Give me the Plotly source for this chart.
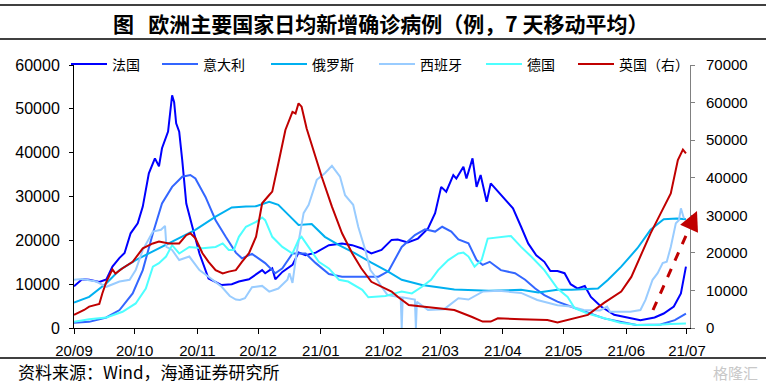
import plotly.graph_objects as go
import pandas as pd

# ---------------- data (days since 2020-09-01, values) ----------------
START = "2020-09-01"

fr_days = [0, 4, 7.5, 12.5, 16, 19, 22.5, 25, 28, 31.5, 34, 37, 40, 42, 43.5, 46.5, 48.5, 49.5, 50.5, 52, 53.5,
           55.5, 58.5, 62, 66.5, 73, 78, 81.5, 86.5, 93, 94.5, 98, 99.5, 103, 108, 111, 114.5, 119.5, 126,
           132.5, 137.5, 142, 147, 152, 157, 160, 165, 170, 175, 178.5, 181.5, 184, 187.5, 189, 192.5, 194,
           197, 199, 201, 204, 206, 211, 217, 221, 224.5, 228.5, 232.5, 235.5, 239, 242.5, 245.5, 249, 252.5,
           255.5, 260.5, 267, 273.5, 280, 287, 291.5, 296.5, 300, 302.5]
fr_vals = [9500, 11100, 11000, 10500, 11100, 14000, 16000, 17100, 21600, 23900, 27700, 35300, 38700, 36900,
           41000, 44800, 53100, 51500, 46700, 44800, 38300, 28400, 23100, 17000, 11300, 9800, 10000, 10600,
           11100, 13200, 12500, 13600, 11100, 12800, 14400, 17200, 16600, 17200, 18900, 19300, 18900, 18200,
           17000, 17800, 20100, 20200, 19500, 20400, 22700, 26200, 32200, 31100, 34900, 34100, 36800, 34100,
           38700, 32200, 34900, 28800, 33000, 30300, 27300, 23100, 19300, 16600, 15100, 13000, 13000, 12500,
           10000, 9000, 9600, 7100, 4900, 3000, 2400, 1800, 2400, 3300, 4900, 7900, 14000]

it_days = [0, 7.5, 16, 22.5, 29, 34, 39, 43.5, 48.5, 53.5, 57.5, 60, 65, 70, 75, 80, 83, 88, 94.5, 99.5, 103,
           108, 111, 114.5, 119.5, 126, 132.5, 142, 150.5, 155.5, 162, 168.5, 173.5, 178.5, 182, 186.5, 190,
           195, 199, 202, 205.5, 211, 218, 223, 228, 232.5, 239, 245.5, 262, 278, 290, 297, 302.5]
it_vals = [1200, 1400, 2400, 4100, 7900, 13200, 21600, 28400, 32200, 34500, 34900, 34100, 29900, 24600, 20800,
           17200, 15900, 16900, 14800, 12500, 13600, 17000, 17000, 17000, 14800, 12300, 11700, 11700, 11700,
           13000, 18500, 21200, 22500, 22000, 23100, 22000, 20200, 19300, 15500, 14400, 15100, 13200, 12500,
           11000, 9000, 7500, 6000, 4900, 2200, 700, 800, 1800, 3300]

ru_days = [0, 7.5, 16, 22.5, 30.5, 40.5, 50.5, 60, 70, 78, 85, 90, 96.5, 101, 106, 111, 117.5, 124, 131, 139,
           147, 155.5, 162, 172, 188, 205, 221, 229.5, 239, 246, 259, 264, 270.5, 278.5, 285, 291.5, 298, 302.5]
ru_vals = [5800, 7100, 10200, 13200, 15500, 17800, 20100, 22400, 25400, 27500, 27700, 27800, 28800, 28100,
           25800, 23500, 23700, 20800, 18900, 17000, 14900, 12800, 11000, 9800, 8800, 8500, 8700, 8100, 8700,
           8700, 9000, 11000, 14000, 18200, 22400, 24800, 25000, 24800]

es_days = [0, 4, 11, 16, 22.5, 27.5, 30.5, 34, 39, 43, 45, 45.7, 48.5, 52, 57, 62, 66.5, 73, 77, 80, 82, 84.5,
           88, 93, 96.5, 101, 105.5, 106.5, 108, 110, 113.5, 116, 120, 124, 127.5, 131.5, 134, 138, 140.5, 144,
           146.5, 149, 152, 155, 161.5, 162, 162.5, 168.5, 169, 169.5, 175, 183, 190, 195, 202, 210, 221, 229,
           239, 245.5, 252, 260, 263.5, 265, 275, 280, 282.5, 286, 288.5, 291, 293, 295, 297.5, 299, 300, 301.5]
es_vals = [11000, 11200, 10600, 9400, 10600, 11000, 13200, 17800, 22000, 22400, 23300, 18500, 17800, 15500,
           16300, 13200, 11700, 9400, 7300, 6500, 6400, 6800, 9300, 9600, 8300, 9000, 11000, 12500, 10300,
           17000, 26200, 28100, 33800, 35300, 37000, 34500, 30300, 28100, 23100, 17800, 13200, 11700, 9400,
           7500, 7000, 0, 7000, 6500, 0, 6000, 4100, 4300, 6800, 6500, 8300, 8500, 8000, 6400, 5200, 4900,
           4100, 4000, 4900, 3700, 3700, 4100, 6400, 11000, 12500, 14800, 15100, 18500, 23900, 24600, 27300,
           25000]

de_days = [0, 7.5, 16, 24, 30.5, 35.5, 39, 42, 45.5, 48.5, 52, 57, 63.5, 70, 73.5, 76.5, 79, 81.5, 85, 90, 93,
           94.5, 98, 103, 108, 111, 112.5, 116, 121, 126, 131, 135.5, 142.5, 145.5, 154, 158.5, 162, 167, 172,
           176.5, 180, 185, 190, 192.5, 195, 198, 201.5, 204.5, 209.5, 216, 221, 226, 232.5, 239, 244, 247.5,
           254, 262, 270, 278.5, 287, 295, 302.5]
de_vals = [1400, 2000, 2400, 3700, 5600, 9000, 14000, 14800, 16300, 18900, 17000, 18500, 18200, 18500, 19300,
           17800, 17800, 20800, 23100, 24200, 25200, 24600, 20800, 18500, 17000, 20100, 20800, 18500, 15100,
           13600, 11000, 10600, 8700, 7000, 7300, 7900, 8300, 7900, 9400, 11000, 13200, 15500, 17000, 17200,
           16300, 14000, 15500, 20400, 20700, 21000, 18500, 16300, 13200, 9000, 7100, 4500, 3300, 2200, 1200,
           700, 700, 900, 1000]

uk_days = [0, 5, 7.5, 12.5, 14, 16, 19, 20.5, 24, 29, 34, 39, 42, 47, 52, 55.5, 57.5, 60, 63.5, 66.5, 70, 73.5,
           76.5, 80, 83, 86.5, 90, 93, 96.5, 98, 101, 104.5, 108, 109.5, 111, 112.5, 115, 118.5, 122.5, 127.5,
           132.5, 137.5, 142, 147, 152, 157, 160, 165.5, 172, 180, 188, 196.5, 202, 206, 209.5, 221, 234, 239,
           245.5, 254, 262, 270.5, 275.5, 280, 285, 290, 295, 298.5, 301, 302.5]
uk_vals = [3500, 4800, 5700, 6400, 9200, 12300, 15600, 14500, 15900, 17600, 21200, 22500, 23000, 22500, 22500,
           24700, 25200, 23900, 19900, 17600, 15400, 14500, 15000, 15400, 17600, 19900, 24300, 33200, 35400,
           36300, 43800, 52700, 57500, 57100, 59800, 58900, 53100, 46900, 40200, 32300, 25200, 19900, 15900,
           12300, 11000, 9700, 8300, 6100, 5700, 5200, 4800, 3000, 1700, 1700, 2600, 2300, 2100, 1500, 2300,
           3500, 6700, 9700, 13600, 19000, 25200, 30500, 35800, 44700, 47500, 46500]

series = [
    ("法国", fr_days, fr_vals, "#0000FF", "y", 40),
    ("意大利", it_days, it_vals, "#3366FF", "y", 58),
    ("俄罗斯", ru_days, ru_vals, "#00B0F0", "y", 57),
    ("西班牙", es_days, es_vals, "#99CCFF", "y", 56),
    ("德国", de_days, de_vals, "#4DFFFF", "y", 41),
    ("英国（右）", uk_days, uk_vals, "#C00000", "y2", 72),
]

TITLE = "图\u00a0\u00a0\u00a0欧洲主要国家日均新增确诊病例（例，7 天移动平均）"
SOURCE = "资料来源：Wind，海通证券研究所"

# ---------------- layout geometry ----------------
W, H = 766, 386
ML, MR, MT, MB = 74, 76, 65, 58
PW, PH = W - ML - MR, H - MT - MB


def px_x(x):
    return (x - ML) / PW


def px_y(y):
    return (H - MB - y) / PH


start = pd.Timestamp(START)


def to_dates(days):
    return [start + pd.Timedelta(days=d) for d in days]


fig = go.Figure()
for name, d, v, color, yax, lw in series:
    fig.add_trace(go.Scatter(
        x=to_dates(d), y=v, name=name, mode="lines", yaxis=yax,
        line=dict(color=color, width=2), legendwidth=lw,
        hoverinfo="skip"))

CJK = "Noto Sans CJK SC"
NUM = "Liberation Sans, Arial"

fig.update_layout(
    width=W, height=H,
    margin=dict(l=ML, r=MR, t=MT, b=MB, pad=0, autoexpand=False),
    paper_bgcolor="white", plot_bgcolor="white",
    showlegend=True,
    legend=dict(orientation="h", x=px_x(696), y=1.002, xanchor="right", yanchor="middle",
                bgcolor="rgba(0,0,0,0)", font=dict(family=CJK, size=14, color="#000"),
                itemwidth=36, tracegroupgap=0, traceorder="normal"),
    xaxis=dict(type="date", range=[start, start + pd.Timedelta(days=304.5)], automargin=False,
               tick0=START, dtick="M1", tickformat="%y/%m",
               showgrid=False, zeroline=False, showline=True, linecolor="#000", linewidth=1,
               ticks="outside", ticklen=5, tickcolor="#000",
               tickfont=dict(family=NUM, size=15, color="#000"), ticklabelstandoff=4),
    yaxis=dict(range=[0, 60000], dtick=10000, tickformat="d", automargin=False,
               showgrid=False, zeroline=False, showline=True, linecolor="#000", linewidth=1,
               ticks="outside", ticklen=4, tickcolor="#000",
               tickfont=dict(family=NUM, size=16, color="#000"), ticklabelstandoff=6),
    yaxis2=dict(range=[0, 70000], dtick=10000, tickformat="d", overlaying="y", side="right",
                automargin=False,
                showgrid=False, zeroline=False, showline=True, linecolor="#808080", linewidth=1,
                ticks="outside", ticklen=4, tickcolor="#808080",
                tickfont=dict(family=NUM, size=15, color="#000"), ticklabelstandoff=8),
)

# decorative rules
for yy in (5, 39, 358):
    fig.add_shape(type="line", xref="paper", yref="paper",
                  x0=px_x(0), x1=px_x(W), y0=px_y(yy), y1=px_y(yy),
                  line=dict(color="#000", width=1.5))

fig.add_annotation(text=f"<b>{TITLE}</b>", xref="paper", yref="paper",
                   x=px_x(380), y=px_y(23), xanchor="center", yanchor="middle",
                   showarrow=False, font=dict(family=CJK, size=21, color="#000"))
fig.add_annotation(text=SOURCE, xref="paper", yref="paper",
                   x=px_x(16), y=px_y(371), xanchor="left", yanchor="middle",
                   showarrow=False, font=dict(family=CJK, size=17, color="#000"))
fig.add_annotation(text="格隆汇", xref="paper", yref="paper",
                   x=px_x(760), y=px_y(372), xanchor="right", yanchor="middle",
                   showarrow=False, font=dict(family=CJK, size=15, color="#C8C8C8"))

# dashed red arrow (trend note)
tail = (653, 310)
head = (697, 211)
fig.add_shape(type="line", xref="paper", yref="paper",
              x0=px_x(tail[0]), y0=px_y(tail[1]), x1=px_x(head[0] - 4), y1=px_y(head[1] + 9),
              line=dict(color="#C00000", width=3, dash="dash"))
dx, dy = head[0] - tail[0], head[1] - tail[1]
ln = (dx * dx + dy * dy) ** 0.5
fig.add_annotation(xref="paper", yref="paper", x=px_x(head[0]), y=px_y(head[1]),
                   ax=-dx / ln * 14, ay=-dy / ln * 14, axref="pixel", ayref="pixel",
                   showarrow=True, arrowhead=2, arrowsize=1.3, arrowwidth=3,
                   arrowcolor="#C00000", text="")

fig.write_html("out.html", config={"displayModeBar": False},
               post_script="document.body.style.margin='0px';document.body.style.padding='0px';")
